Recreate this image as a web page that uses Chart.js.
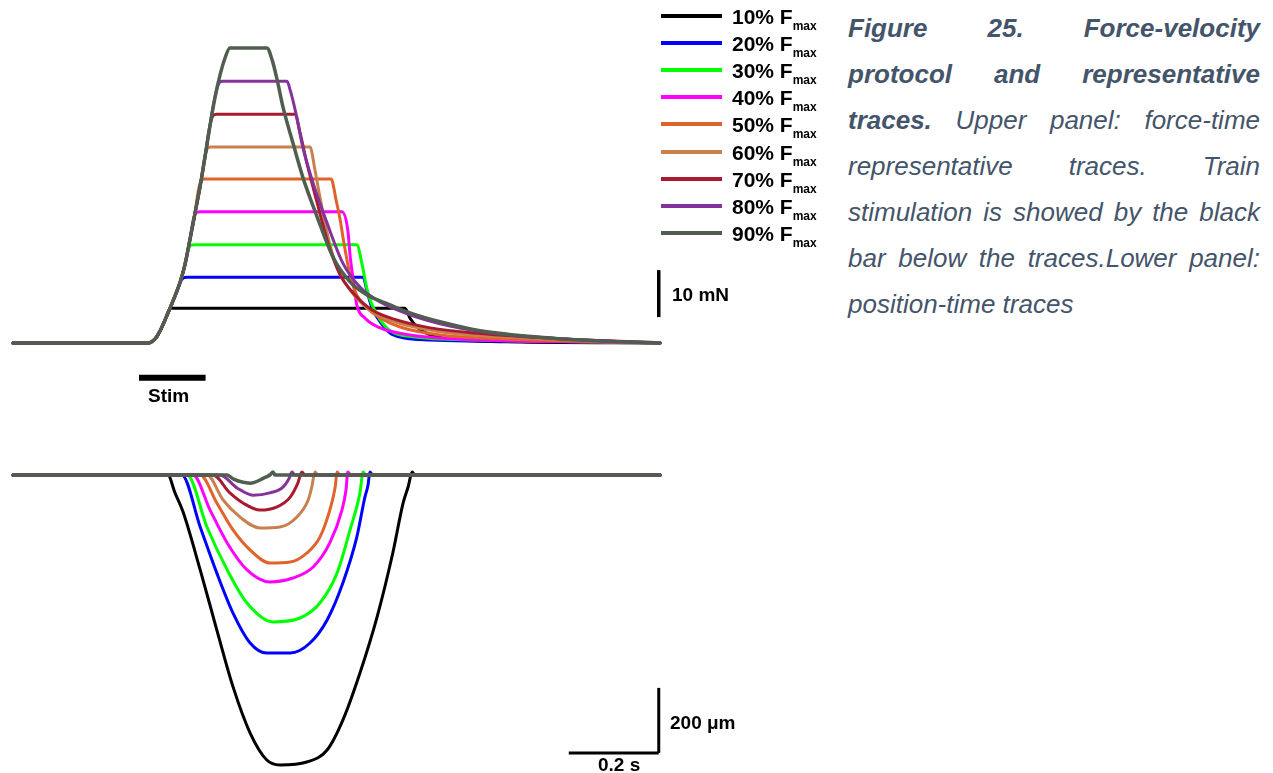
<!DOCTYPE html>
<html>
<head>
<meta charset="utf-8">
<script src="https://cdn.jsdelivr.net/npm/chart.js@4.4.1/dist/chart.umd.min.js"></script>
<style>
  body { margin: 0; background: #fff; width: 1273px; height: 773px; overflow: hidden; position: relative;
         font-family: "Liberation Sans", Arial, sans-serif; }
  canvas { position: absolute; }
  .lbl { position: absolute; font-weight: bold; font-size: 19px; line-height: 22px; color: #000; white-space: nowrap; }
  .leg { font-size: 21px; }
  .leg sub { font-size: 12px; vertical-align: -6px; line-height: 0; }
  .sw { position: absolute; left: 661px; width: 61px; height: 4px; }
  #caption { position: absolute; left: 848px; top: 5px; width: 412px; color: #44546a;
             font-size: 26px; line-height: 46px; font-style: italic; }
  #caption div { text-align: justify; text-align-last: justify; white-space: nowrap; }
  #caption div.last { text-align-last: left; }
</style>
</head>
<body>
<canvas id="force" width="720" height="404" style="left:4px; top:0px;"></canvas>
<canvas id="position" width="720" height="364" style="left:4px; top:410px;"></canvas>

<div id="legend"></div>
<div class="lbl" style="left:672px; top:284px;">10 mN</div>
<div class="lbl" style="left:148px; top:385px;">Stim</div>
<div class="lbl" style="left:670px; top:712px;">200 μm</div>
<div class="lbl" style="left:598px; top:754px;">0.2 s</div>

<div id="caption">
  <div><b>Figure 25. Force-velocity</b></div>
  <div><b>protocol and representative</b></div>
  <div><b>traces.</b> Upper panel: force-time</div>
  <div>representative traces. Train</div>
  <div>stimulation is showed by the black</div>
  <div>bar below the traces.Lower panel:</div>
  <div class="last">position-time traces</div>
</div>

<script>
// loads, % of Fmax
const loads = [10, 20, 30, 40, 50, 60, 70, 80, 90];
const colors = ['#000000', '#0000ff', '#00ff00', '#ff00ff', '#e2622b', '#c8804f', '#a91a2e', '#833399', '#4f5e4f'];

// force traces: [time ms, force mN]
const force10 = [[0,0],[300,0],[316,0.9],[327,2.6],[338,4.9],[346,6.9],[353,7.4],[871,7.4],[882,5.3],[900,3.2],[927,1.7],[993,0.6],[1127,0.2],[1438,0]];
const force20 = [[0,0],[300,0],[316,0.9],[327,2.6],[338,4.9],[349,7.4],[360,10.0],[371,12.8],[378,13.8],[386,14.0],[778,14.0],[787,10.9],[798,7.4],[816,4.5],[838,2.1],[867,1.1],[927,0.6],[1038,0.4],[1304,0.2],[1438,0]];
const force30 = [[0,0],[300,0],[316,0.9],[327,2.6],[338,4.9],[349,7.4],[360,10.0],[371,12.8],[382,16.6],[389,19.8],[396,20.8],[404,20.9],[764,20.9],[776,16.6],[787,11.3],[798,8.1],[816,4.9],[838,2.6],[889,1.3],[1038,0.6],[1304,0.2],[1438,0]];
const force40 = [[0,0],[300,0],[316,0.9],[327,2.6],[338,4.9],[349,7.4],[360,10.0],[371,12.8],[382,16.6],[393,21.9],[401,26.3],[408,27.8],[416,27.9],[731,27.9],[744,24.0],[749,18.7],[756,13.4],[764,8.1],[782,5.3],[816,3.2],[882,1.7],[1038,0.6],[1304,0.2],[1438,0]];
const force50 = [[0,0],[300,0],[316,0.9],[327,2.6],[338,4.9],[349,7.4],[360,10.0],[371,12.8],[382,16.6],[393,21.9],[404,27.4],[412,32.5],[418,34.6],[426,34.9],[707,34.9],[718,30.4],[727,26.2],[736,20.9],[749,14.5],[764,10.2],[787,7.4],[816,5.3],[860,3.4],[949,1.7],[1082,0.9],[1438,0]];
const force60 = [[0,0],[300,0],[316,0.9],[327,2.6],[338,4.9],[349,7.4],[360,10.0],[371,12.8],[382,16.6],[393,21.9],[404,27.4],[416,33.4],[425,39.0],[432,41.4],[440,41.7],[660,41.7],[671,36.8],[682,31.1],[700,22.6],[720,16.0],[749,11.3],[787,7.4],[827,5.3],[882,3.6],[971,2.1],[1082,1.3],[1304,0.4],[1438,0]];
const force70 = [[0,0],[300,0],[316,0.9],[327,2.6],[338,4.9],[349,7.4],[360,10.0],[371,12.8],[382,16.6],[393,21.9],[404,27.4],[416,33.4],[427,39.8],[436,45.5],[444,48.3],[452,48.7],[627,48.7],[638,44.7],[653,38.3],[676,29.8],[700,21.3],[727,14.5],[760,10.2],[798,7.0],[849,5.0],[927,3.2],[1038,2.0],[1216,0.9],[1438,0]];
const force80 = [[0,0],[300,0],[316,0.9],[327,2.6],[338,4.9],[349,7.4],[360,10.0],[371,12.8],[382,16.6],[393,21.9],[404,27.4],[416,33.4],[427,39.8],[438,46.4],[447,51.5],[456,55.0],[465,55.7],[609,55.7],[616,53.8],[627,49.6],[644,41.7],[667,34.0],[698,25.5],[733,17.0],[771,11.9],[816,8.7],[882,6.0],[971,3.6],[1082,1.9],[1216,0.9],[1438,0]];
const force90 = [[0,0],[300,0],[316,0.9],[327,2.6],[338,4.9],[349,7.4],[360,10.0],[371,12.8],[382,16.6],[393,21.9],[404,27.4],[416,33.4],[427,39.8],[438,46.4],[449,52.3],[460,57.0],[471,60.6],[482,62.8],[564,62.8],[576,60.2],[587,56.0],[600,50.2],[622,42.6],[644,35.3],[676,26.8],[711,18.3],[749,13.0],[787,10.2],[838,8.1],[882,6.4],[949,4.5],[1038,2.6],[1187,1.1],[1304,0.4],[1438,0]];

// position traces: [time ms, position um]
const pos10 = [[0,0],[344,0],[360,-55],[378,-114],[416,-292],[453,-477],[489,-652],[527,-794],[564,-877],[593,-892],[653,-883],[698,-846],[733,-754],[771,-609],[809,-437],[844,-240],[867,-86],[878,-37],[887,9],[893,0],[1438,0]];
const pos20 = [[0,0],[375,0],[416,-160],[453,-302],[489,-425],[527,-517],[564,-548],[616,-548],[660,-517],[698,-446],[733,-332],[764,-191],[782,-68],[789,-31],[793,9],[800,0],[1438,0]];
const pos30 = [[0,0],[387,0],[431,-160],[476,-292],[520,-394],[578,-452],[638,-440],[682,-394],[720,-302],[749,-169],[771,-55],[778,9],[784,0],[1438,0]];
const pos40 = [[0,0],[400,0],[438,-108],[476,-209],[520,-292],[571,-329],[622,-317],[667,-283],[704,-209],[731,-108],[740,-46],[744,9],[751,0],[1438,0]];
const pos50 = [[0,0],[416,0],[453,-86],[489,-169],[527,-231],[571,-271],[616,-268],[653,-240],[682,-191],[704,-108],[716,-37],[720,9],[727,0],[1438,0]];
const pos60 = [[0,0],[431,0],[467,-77],[504,-129],[549,-163],[593,-160],[631,-129],[656,-77],[664,-37],[671,9],[678,0],[1438,0]];
const pos70 = [[0,0],[444,0],[482,-55],[511,-86],[549,-108],[587,-98],[616,-68],[633,-25],[642,9],[649,0],[1438,0]];
const pos80 = [[0,0],[460,0],[498,-40],[533,-62],[571,-55],[600,-37],[613,-12],[620,9],[627,0],[1438,0]];
const pos90 = [[0,0],[476,0],[489,-12],[527,-25],[558,-9],[571,0],[578,9],[582,0],[1438,0]];

// stimulus train and calibration bars
const stimOn = 280, stimOff = 428;
const barTime = 1435;           // ms, where vertical bars sit
const forceBar = [5.5, 15.5];   // 10 mN
const posBar = [-655, -855];    // 200 um
const timeBar = [1235, 1435];   // 0.2 s

const forces = [force10, force20, force30, force40, force50, force60, force70, force80, force90];
const positions = [pos10, pos20, pos30, pos40, pos50, pos60, pos70, pos80, pos90];

// legend
const legend = document.getElementById('legend');
loads.forEach((l, i) => {
  const yc = 16 + 27.1 * i;
  const sw = document.createElement('div');
  sw.className = 'sw';
  sw.style.top = (yc - 2) + 'px';
  sw.style.background = colors[i];
  legend.appendChild(sw);
  const t = document.createElement('div');
  t.className = 'lbl leg';
  t.style.left = '732px';
  t.style.top = (yc - 10) + 'px';
  t.innerHTML = l + '% F<sub>max</sub>';
  legend.appendChild(t);
});

const scaleBars = {
  id: 'scaleBars',
  afterDatasetsDraw(chart, args, opts) {
    const { ctx, scales: { x, y } } = chart;
    ctx.save();
    ctx.strokeStyle = '#000';
    opts.segments.forEach(s => {
      ctx.lineWidth = s.w;
      ctx.beginPath();
      ctx.moveTo(x.getPixelForValue(s.x0), y.getPixelForValue(s.y0));
      ctx.lineTo(x.getPixelForValue(s.x1), y.getPixelForValue(s.y1));
      ctx.stroke();
    });
    ctx.restore();
  }
};

function makeSets(traces) {
  return traces.map((tr, i) => ({
    label: loads[i] + '% Fmax',
    data: tr.map(p => ({ x: p[0], y: p[1] })),
    borderColor: colors[i],
    backgroundColor: colors[i],
    borderWidth: i === 8 ? 3.5 : 3,
    order: loads.length - i,   // 90% drawn on top
    fill: false
  }));
}

function makeChart(id, traces, yMin, yMax, segments) {
  return new Chart(document.getElementById(id), {
    type: 'line',
    data: { datasets: makeSets(traces) },
    options: {
      responsive: false,
      animation: false,
      events: [],
      layout: { padding: 0 },
      elements: {
        point: { radius: 0 },
        line: { cubicInterpolationMode: 'monotone', borderCapStyle: 'round', borderJoinStyle: 'round' }
      },
      scales: {
        x: { type: 'linear', min: -20, max: 1580, display: false },
        y: { min: yMin, max: yMax, display: false }
      },
      plugins: {
        legend: { display: false },
        tooltip: { enabled: false },
        scaleBars: { segments: segments }
      }
    },
    plugins: [scaleBars]
  });
}

makeChart('force', forces, -13, 73, [
  { x0: barTime, y0: forceBar[0], x1: barTime, y1: forceBar[1], w: 3.5 },
  { x0: stimOn, y0: -7.4, x1: stimOff, y1: -7.4, w: 6 }
]);
makeChart('position', positions, -920, 200, [
  { x0: barTime, y0: posBar[0], x1: barTime, y1: posBar[1], w: 3 },
  { x0: timeBar[0], y0: posBar[1], x1: timeBar[1], y1: posBar[1], w: 3 }
]);
</script>
</body>
</html>
